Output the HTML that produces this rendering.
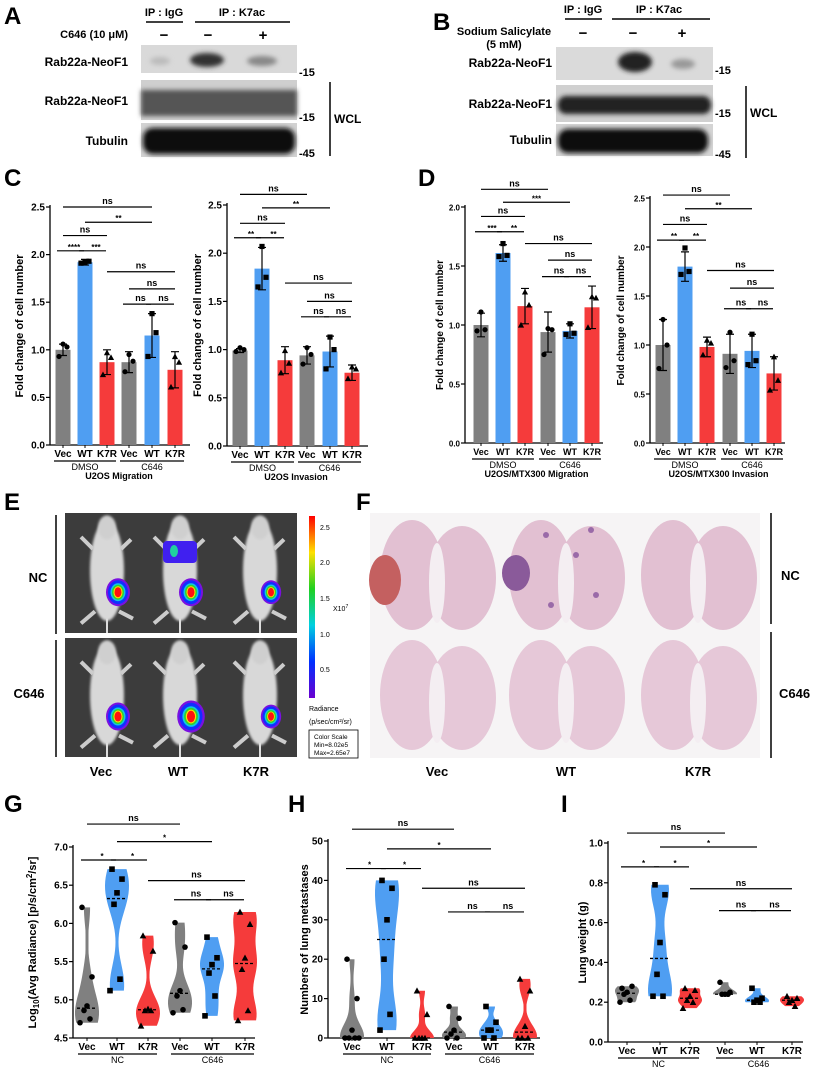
<!DOCTYPE html>
<html><head><meta charset="utf-8"><style>
html,body{margin:0;padding:0;background:#fff;}
svg{display:block;font-family:"Liberation Sans",Arial,sans-serif;}
.b{font-weight:bold;}
</style></head><body>
<svg id="fig" width="817" height="1078" viewBox="0 0 817 1078" xmlns="http://www.w3.org/2000/svg">
<defs>
<filter id="bl2" x="-50%" y="-50%" width="200%" height="200%"><feGaussianBlur stdDeviation="2.5"/></filter>
<filter id="bl4" x="-50%" y="-50%" width="200%" height="200%"><feGaussianBlur stdDeviation="4"/></filter>
<filter id="bl1" x="-50%" y="-50%" width="200%" height="200%"><feGaussianBlur stdDeviation="1.2"/></filter>
<linearGradient id="cbar" x1="0" y1="1" x2="0" y2="0">
<stop offset="0" stop-color="#6a00d0"/><stop offset="0.2" stop-color="#0030ff"/><stop offset="0.4" stop-color="#00d0e0"/><stop offset="0.6" stop-color="#20d020"/><stop offset="0.8" stop-color="#ffe000"/><stop offset="1" stop-color="#ff0000"/>
</linearGradient>
</defs>

<!-- Panel A -->
<g>
<text x="4" y="24" font-size="24" class="b">A</text>
<text x="164" y="16" font-size="11" class="b" text-anchor="middle">IP : IgG</text>
<line x1="146" y1="22" x2="183" y2="22" stroke="#000" stroke-width="1.5"/>
<text x="242" y="16" font-size="11" class="b" text-anchor="middle">IP : K7ac</text>
<line x1="195" y1="22" x2="290" y2="22" stroke="#000" stroke-width="1.5"/>
<text x="128" y="38" font-size="11" class="b" text-anchor="end">C646 (10 μM)</text>
<text x="164" y="40" font-size="15" class="b" text-anchor="middle">−</text>
<text x="208" y="40" font-size="15" class="b" text-anchor="middle">−</text>
<text x="263" y="40" font-size="15" class="b" text-anchor="middle">+</text>
<rect x="141" y="45" width="156" height="28" fill="#d9d9d9"/>
<ellipse cx="160" cy="61" rx="10" ry="4" fill="#bbb" filter="url(#bl2)"/>
<ellipse cx="207" cy="60" rx="17" ry="7" fill="#333" filter="url(#bl2)"/>
<ellipse cx="262" cy="61" rx="15" ry="5" fill="#888" filter="url(#bl2)"/>
<rect x="141" y="80" width="156" height="40" fill="#cfcfcf"/>
<rect x="141" y="90" width="156" height="26" fill="#555" filter="url(#bl2)"/>
<rect x="141" y="123" width="156" height="34" fill="#d2d2d2"/>
<rect x="143" y="128" width="152" height="26" rx="10" fill="#111" filter="url(#bl2)"/>
<text x="128" y="66" font-size="12" class="b" text-anchor="end">Rab22a-NeoF1</text>
<text x="128" y="105" font-size="12" class="b" text-anchor="end">Rab22a-NeoF1</text>
<text x="128" y="145" font-size="12" class="b" text-anchor="end">Tubulin</text>
<text x="299" y="76" font-size="11" class="b">-15</text>
<text x="299" y="121" font-size="11" class="b">-15</text>
<text x="299" y="157" font-size="11" class="b">-45</text>
<line x1="330" y1="82" x2="330" y2="156" stroke="#000" stroke-width="1.5"/>
<text x="334" y="123" font-size="12" class="b">WCL</text>
</g>

<!-- Panel B -->
<g>
<text x="433" y="30" font-size="24" class="b">B</text>
<text x="583" y="13" font-size="11" class="b" text-anchor="middle">IP : IgG</text>
<line x1="565" y1="19" x2="602" y2="19" stroke="#000" stroke-width="1.5"/>
<text x="659" y="13" font-size="11" class="b" text-anchor="middle">IP : K7ac</text>
<line x1="612" y1="19" x2="710" y2="19" stroke="#000" stroke-width="1.5"/>
<text x="504" y="35" font-size="11" class="b" text-anchor="middle">Sodium Salicylate</text>
<text x="504" y="48" font-size="11" class="b" text-anchor="middle">(5 mM)</text>
<text x="583" y="38" font-size="15" class="b" text-anchor="middle">−</text>
<text x="633" y="38" font-size="15" class="b" text-anchor="middle">−</text>
<text x="682" y="38" font-size="15" class="b" text-anchor="middle">+</text>
<rect x="556" y="47" width="157" height="33" fill="#dadada"/>
<ellipse cx="635" cy="62" rx="17" ry="10" fill="#222" filter="url(#bl2)"/>
<ellipse cx="683" cy="64" rx="12" ry="5" fill="#999" filter="url(#bl2)"/>
<rect x="556" y="85" width="157" height="37" fill="#d0d0d0"/>
<rect x="558" y="96" width="153" height="18" rx="8" fill="#222" filter="url(#bl2)"/>
<rect x="556" y="124" width="157" height="32" fill="#d4d4d4"/>
<rect x="558" y="129" width="150" height="24" rx="10" fill="#111" filter="url(#bl2)"/>
<text x="552" y="67" font-size="12" class="b" text-anchor="end">Rab22a-NeoF1</text>
<text x="552" y="108" font-size="12" class="b" text-anchor="end">Rab22a-NeoF1</text>
<text x="552" y="144" font-size="12" class="b" text-anchor="end">Tubulin</text>
<text x="715" y="74" font-size="11" class="b">-15</text>
<text x="715" y="117" font-size="11" class="b">-15</text>
<text x="715" y="158" font-size="11" class="b">-45</text>
<line x1="746" y1="86" x2="746" y2="158" stroke="#000" stroke-width="1.5"/>
<text x="750" y="117" font-size="12" class="b">WCL</text>
</g>

<text x="4" y="186" font-size="24" class="b">C</text>
<text x="418" y="186" font-size="24" class="b">D</text>

<!-- Panel E -->
<g>
<text x="4" y="510" font-size="24" class="b">E</text>
<line x1="56" y1="515" x2="56" y2="634" stroke="#000" stroke-width="1.5"/>
<line x1="56" y1="640" x2="56" y2="757" stroke="#000" stroke-width="1.5"/>
<text x="38" y="582" font-size="13" class="b" text-anchor="middle">NC</text>
<text x="29" y="698" font-size="13" class="b" text-anchor="middle">C646</text>
<g id="mice"></g>
<rect x="309" y="516" width="6" height="182" fill="url(#cbar)"/>
<text x="320" y="530" font-size="7">2.5</text>
<text x="320" y="565" font-size="7">2.0</text>
<text x="320" y="601" font-size="7">1.5</text>
<text x="320" y="637" font-size="7">1.0</text>
<text x="320" y="672" font-size="7">0.5</text>
<text x="333" y="611" font-size="7">X10<tspan dy="-3" font-size="5">7</tspan></text>
<text x="309" y="711" font-size="7">Radiance</text>
<text x="309" y="724" font-size="7">(p/sec/cm²/sr)</text>
<rect x="309" y="730" width="49" height="28" fill="none" stroke="#000" stroke-width="0.8"/>
<text x="314" y="739" font-size="6.5">Color Scale</text>
<text x="314" y="747" font-size="6.5">Min=8.02e5</text>
<text x="314" y="755" font-size="6.5">Max=2.65e7</text>
<text x="101" y="776" font-size="13" class="b" text-anchor="middle">Vec</text>
<text x="178" y="776" font-size="13" class="b" text-anchor="middle">WT</text>
<text x="256" y="776" font-size="13" class="b" text-anchor="middle">K7R</text>
</g>

<!-- Panel F -->
<g>
<text x="356" y="510" font-size="24" class="b">F</text>
<rect x="370" y="513" width="390" height="245" fill="#f6f4f5"/>
<g id="lungs"></g>
<line x1="771" y1="513" x2="771" y2="624" stroke="#000" stroke-width="1.5"/>
<line x1="771" y1="632" x2="771" y2="758" stroke="#000" stroke-width="1.5"/>
<text x="781" y="580" font-size="13" class="b">NC</text>
<text x="779" y="698" font-size="13" class="b">C646</text>
<text x="437" y="776" font-size="13" class="b" text-anchor="middle">Vec</text>
<text x="566" y="776" font-size="13" class="b" text-anchor="middle">WT</text>
<text x="698" y="776" font-size="13" class="b" text-anchor="middle">K7R</text>
</g>

<text x="4" y="812" font-size="24" class="b">G</text>
<text x="288" y="812" font-size="24" class="b">H</text>
<text x="561" y="812" font-size="24" class="b">I</text>

<g id="charts"></g>
</svg>

<script>
// ---------- data ----------
const cats = ['Vec','WT','K7R','Vec','WT','K7R'];
const groupsDC = ['DMSO','C646'];
const groupsNC = ['NC','C646'];

const cLeftMeans = [1.0,1.92,0.87,0.87,1.15,0.79];
const cLeftSD = [0.06,0.03,0.13,0.11,0.23,0.19];
const cLeftPts = [[0.93,1.03,1.06],[1.91,1.93,1.92],[0.74,0.92,0.97],[0.77,0.88,0.95],[0.93,1.18,1.38],[0.61,0.87,0.93]];
const cLeftSig = [[0,4,2.5,'ns'],[1,4,2.34,'**'],[0,2,2.2,'ns'],[0,1,2.04,'****'],[1,2,2.04,'***'],[2,5,1.82,'ns'],[3,5,1.64,'ns'],[3,4,1.48,'ns'],[4,5,1.48,'ns']];
const cLeftTicks = [0,0.5,1.0,1.5,2.0,2.5];

const cRightMeans = [0.99,1.84,0.89,0.94,0.98,0.76];
const cRightSD = [0.02,0.22,0.14,0.09,0.16,0.08];
const cRightPts = [[0.98,1.0,1.02],[1.65,1.75,2.07],[0.76,0.86,0.99],[0.85,0.95,1.02],[0.8,1.0,1.13],[0.7,0.8,0.82]];
const cRightSig = [[0,3,2.61,'ns'],[1,4,2.47,'**'],[0,2,2.31,'ns'],[0,1,2.16,'**'],[1,2,2.16,'**'],[2,5,1.69,'ns'],[3,5,1.5,'ns'],[3,4,1.34,'ns'],[4,5,1.34,'ns']];
const cRightTicks = [0,0.5,1.0,1.5,2.0,2.5];

const dLeftMeans = [1.0,1.61,1.16,0.94,0.95,1.15];
const dLeftSD = [0.1,0.07,0.15,0.17,0.06,0.18];
const dLeftPts = [[0.95,0.96,1.11],[1.58,1.59,1.69],[1.0,1.17,1.28],[0.75,0.96,0.97],[0.92,0.93,1.01],[0.98,1.23,1.24]];
const dLeftSig = [[0,3,2.15,'ns'],[1,4,2.04,'***'],[0,2,1.92,'ns'],[0,1,1.79,'***'],[1,2,1.79,'**'],[2,5,1.69,'ns'],[3,5,1.55,'ns'],[3,4,1.41,'ns'],[4,5,1.41,'ns']];
const dLeftTicks = [0,0.5,1.0,1.5,2.0];

const dRightMeans = [1.0,1.8,0.98,0.91,0.94,0.71];
const dRightSD = [0.26,0.15,0.1,0.2,0.17,0.17];
const dRightPts = [[0.76,1.0,1.26],[1.72,1.75,1.99],[0.9,1.02,1.05],[0.77,0.84,1.13],[0.8,0.84,1.11],[0.54,0.64,0.88]];
const dRightSig = [[0,3,2.53,'ns'],[1,4,2.39,'**'],[0,2,2.23,'ns'],[0,1,2.07,'**'],[1,2,2.07,'**'],[2,5,1.76,'ns'],[3,5,1.58,'ns'],[3,4,1.37,'ns'],[4,5,1.37,'ns']];
const dRightTicks = [0,0.5,1.0,1.5,2.0,2.5];

const gPts = [[6.21,5.3,4.92,4.86,4.75,4.7],[6.71,6.58,6.4,6.25,5.27,5.12],[5.84,5.64,4.88,4.86,4.86,4.66],[6.01,5.69,5.12,5.05,4.87,4.83],[5.82,5.55,5.46,5.35,5.05,4.79],[6.15,5.99,5.55,5.4,4.86,4.73]];
const gSig = [[0,3,7.3,'ns'],[1,4,7.07,'*'],[0,1,6.83,'*'],[1,2,6.83,'*'],[2,5,6.56,'ns'],[3,4,6.31,'ns'],[4,5,6.31,'ns']];
const gTicks = [4.5,5.0,5.5,6.0,6.5,7.0];

const hPts = [[20,10,2,0,0,0,0],[40,38,30,20,6,2],[12,6,0,0,0,0],[8,5,2,1,0,0],[8,4,2,2,0,0],[15,12,3,0,0,0]];
const hSig = [[0,3,53,'ns'],[1,4,48,'*'],[0,1,43,'*'],[1,2,43,'*'],[2,5,38,'ns'],[3,4,32,'ns'],[4,5,32,'ns']];
const hTicks = [0,10,20,30,40,50];

const iPts = [[0.27,0.28,0.25,0.24,0.21,0.2],[0.79,0.74,0.5,0.34,0.23,0.23],[0.27,0.26,0.23,0.21,0.2,0.17],[0.3,0.25,0.24,0.24,0.24],[0.27,0.22,0.21,0.2,0.2],[0.23,0.22,0.21,0.2,0.18]];
const iSig = [[0,3,1.05,'ns'],[1,4,0.98,'*'],[0,1,0.88,'*'],[1,2,0.88,'*'],[2,5,0.77,'ns'],[3,4,0.66,'ns'],[4,5,0.66,'ns']];
const iTicks = [0,0.2,0.4,0.6,0.8,1.0];

// ---------- drawing ----------
const NS = 'http://www.w3.org/2000/svg';
const COLORS = ['#808080','#4f9ef2','#f53b3b','#808080','#4f9ef2','#f53b3b'];
const SHAPES = ['c','s','t','c','s','t'];
const root = document.getElementById('charts');
function mk(tag, attrs, parent){
  const e = document.createElementNS(NS, tag);
  for (const k in attrs) e.setAttribute(k, attrs[k]);
  parent.appendChild(e);
  return e;
}
function txt(parent, x, y, s, size, anchor, bold){
  const t = mk('text', {x:x, y:y, 'font-size':size, 'text-anchor':anchor||'middle', 'font-weight':bold===false?'normal':'bold'}, parent);
  t.textContent = s;
  return t;
}
function marker(parent, shape, x, y, r){
  let m;
  if (shape==='c') m = mk('circle',{cx:x,cy:y,r:r,fill:'#000'},parent);
  else if (shape==='s') m = mk('rect',{x:x-r,y:y-r,width:2*r,height:2*r,fill:'#000'},parent);
  else m = mk('polygon',{points:`${x},${y-r-0.5} ${x-r-0.5},${y+r} ${x+r+0.5},${y+r}`,fill:'#000'},parent);
  
  
}
const OFFS = [-5,5,0,-3,3,-7,7];

function axes(g, o){
  const Y = v => o.y0 - (v - o.vMin)/(o.vTop - o.vMin)*(o.y0 - o.yTop);
  const ax = mk('line',{x1:o.x0,y1:o.yTop-2,x2:o.x0,y2:o.y0,stroke:'#000','stroke-width':1.3},g);
  
  
  const xa = mk('line',{x1:o.x0,y1:o.y0,x2:o.x1,y2:o.y0,stroke:'#000','stroke-width':1.3},g);
  
  
  o.ticks.forEach(v=>{
    mk('line',{x1:o.x0-4,y1:Y(v),x2:o.x0,y2:Y(v),stroke:'#000','stroke-width':1.2},g);
    const t = txt(g, o.x0-5, Y(v)+3.5, o.fmt(v), o.tickSize||10, 'end');
    
    
  });
  cats.forEach((c,i)=>{
    mk('line',{x1:o.catX[i],y1:o.y0,x2:o.catX[i],y2:o.y0+3,stroke:'#000','stroke-width':1},g);
    const t = txt(g, o.catX[i], o.y0+12, c, o.catSize||10, 'middle');
    
    
  });
  [[0,2],[3,5]].forEach((p,k)=>{
    mk('line',{x1:o.catX[p[0]]-9,y1:o.y0+16,x2:o.catX[p[1]]+9,y2:o.y0+16,stroke:'#000','stroke-width':1.2},g);
    const t = txt(g, (o.catX[p[0]]+o.catX[p[1]])/2, o.y0+25, o.groups[k], 9, 'middle', o.groupBold);
    
    
  });
  if (o.title){
    const t = txt(g, (o.catX[0]+o.catX[5])/2, o.y0+34, o.title, 9, 'middle');
    
    
  }
  const yt = mk('text',{x:0,y:0,'font-size':o.ytSize||11,'font-weight':'bold','text-anchor':'middle',transform:`translate(${o.ytX},${(o.y0+o.yTop)/2}) rotate(-90)`},g);
  yt.innerHTML = o.ytitle;
  
  
  o.sig.forEach(s=>{
    const a = o.catX[s[0]], b = o.catX[s[1]], y = Y(s[2]);
    const adj = (s[1]-s[0]===1);
    const l = mk('line',{x1:a-(adj?6:0),y1:y,x2:b+(adj?-1:0),y2:y,stroke:'#000','stroke-width':1.2},g);
    
    
    const t = txt(g,(a+b)/2,y-(s[3]==='ns'?3:1),s[3],s[3]==='ns'?9:8,'middle');
    
    
  });
  return Y;
}

function barChart(o){
  const g = mk('g',{},root);
  
  
  const Y = axes(g,o);
  o.means.forEach((m,i)=>{
    const x = o.catX[i];
    const r = mk('rect',{x:x-7.5,y:Y(m),width:15,height:o.y0-Y(m),fill:COLORS[i]},g);
    
    
    const sd = o.sd[i];
    const e = mk('path',{d:`M${x},${Y(m-sd)}V${Y(m+sd)}M${x-4},${Y(m+sd)}H${x+4}M${x-4},${Y(m-sd)}H${x+4}`,stroke:'#000','stroke-width':1.2,fill:'none'},g);
    
    
    o.pts[i].forEach((v,j)=>marker(g,SHAPES[i],x+[-4,4,0][j],Y(v),2.6));
  });
}

function violinChart(o){
  const g = mk('g',{},root);
  
  
  const Y = axes(g,o);
  o.pts.forEach((arr,i)=>{
    const x = o.catX[i];
    const lo = Math.min(...arr), hi = Math.max(...arr);
    const bw = Math.max((hi-lo)*0.16, (o.vTop-o.vMin)*0.02);
    const N = 30, dens = [];
    for (let k=0;k<=N;k++){
      const v = lo + (hi-lo)*k/N;
      let d = 0; arr.forEach(p=>{ d += Math.exp(-0.5*((v-p)/bw)**2); });
      dens.push([v,d]);
    }
    const mx = Math.max(...dens.map(d=>d[1]));
    const hw = 12;
    let left = [], right = [];
    dens.forEach(([v,d])=>{ const w = Math.max(1.5, hw*d/mx); left.push(`${x-w},${Y(v)}`); right.unshift(`${x+w},${Y(v)}`); });
    const p = mk('polygon',{points:left.concat(right).join(' '),fill:COLORS[i]},g);
    
    
    const s = [...arr].sort((a,b)=>a-b);
    const med = s.length%2 ? s[(s.length-1)/2] : (s[s.length/2-1]+s[s.length/2])/2;
    const ml = mk('line',{x1:x-10,y1:Y(med),x2:x+10,y2:Y(med),stroke:'#000','stroke-width':1.3,'stroke-dasharray':'3,2'},g);
    
    
    arr.forEach((v,j)=>marker(g,SHAPES[i],x+OFFS[j%OFFS.length],Y(v),2.8));
  });
}

const f1 = v=>v.toFixed(1);
barChart({name:'chart-c-u2os-migration',x0:50,x1:190,y0:445,yTop:207,vMin:0,vTop:2.5,ticks:cLeftTicks,fmt:f1,catX:[63,85,107,129,152,175],
  means:cLeftMeans,sd:cLeftSD,pts:cLeftPts,sig:cLeftSig,groups:groupsDC,title:'U2OS Migration',ytX:23,ytitle:'Fold change of cell number',groupBold:false});
barChart({name:'chart-c-u2os-invasion',x0:227,x1:368,y0:446,yTop:205,vMin:0,vTop:2.5,ticks:cRightTicks,fmt:f1,catX:[240,262,285,307,330,352],
  means:cRightMeans,sd:cRightSD,pts:cRightPts,sig:cRightSig,groups:groupsDC,title:'U2OS Invasion',ytX:201,ytitle:'Fold change of cell number',groupBold:false});
barChart({name:'chart-d-mtx300-migration',x0:465,x1:603,y0:443,yTop:207,vMin:0,vTop:2.0,ticks:dLeftTicks,fmt:f1,catX:[481,503,525,548,570,592],
  means:dLeftMeans,sd:dLeftSD,pts:dLeftPts,sig:dLeftSig,groups:groupsDC,title:'U2OS/MTX300 Migration',ytX:443,ytitle:'Fold change of cell number',tickSize:8,catSize:9,groupBold:false,ytSize:10});
barChart({name:'chart-d-mtx300-invasion',x0:650,x1:785,y0:443,yTop:198,vMin:0,vTop:2.5,ticks:dRightTicks,fmt:f1,catX:[663,685,707,730,752,774],
  means:dRightMeans,sd:dRightSD,pts:dRightPts,sig:dRightSig,groups:groupsDC,title:'U2OS/MTX300 Invasion',ytX:624,ytitle:'Fold change of cell number',tickSize:8,catSize:9,groupBold:false,ytSize:10});

violinChart({name:'chart-g-radiance',x0:73,x1:255,y0:1038,yTop:847,vMin:4.5,vTop:7.0,ticks:gTicks,fmt:f1,catX:[87,117,148,180,212,245],
  pts:gPts,sig:gSig,groups:groupsNC,ytX:36,ytitle:'Log<tspan font-size="8" dy="3">10</tspan><tspan dy="-3">(Avg Radiance) [p/s/cm</tspan><tspan font-size="8" dy="-4">2</tspan><tspan dy="4">/sr]</tspan>',groupBold:false});
violinChart({name:'chart-h-lung-metastases',x0:328,x1:540,y0:1038,yTop:841,vMin:0,vTop:50,ticks:hTicks,fmt:v=>String(v),catX:[352,387,422,454,491,525],
  pts:hPts,sig:hSig,groups:groupsNC,ytX:308,ytitle:'Numbers of lung metastases',groupBold:false});
violinChart({name:'chart-i-lung-weight',x0:608,x1:803,y0:1042,yTop:843,vMin:0,vTop:1.0,ticks:iTicks,fmt:f1,catX:[627,660,690,725,757,792],
  pts:iPts,sig:iSig,groups:groupsNC,ytX:586,ytitle:'Lung weight (g)',groupBold:false});

// ---------- mice (panel E) ----------
const mice = document.getElementById('mice');
[[513,633],[638,757]].forEach((row,ri)=>{
  const bg = mk('rect',{x:65,y:row[0],width:232,height:row[1]-row[0],fill:'#3c3c3c'},mice);
  
  
  [107,180,260].forEach((cx,ci)=>{
    const top=row[0], h=row[1]-row[0];
    mk('ellipse',{cx:cx,cy:top+h*0.48,rx:17,ry:h*0.42,fill:'#d8d8d8',filter:'url(#bl1)'},mice);
    mk('ellipse',{cx:cx,cy:top+h*0.12,rx:9,ry:12,fill:'#cfcfcf',filter:'url(#bl1)'},mice);
    mk('line',{x1:cx-14,y1:top+h*0.3,x2:cx-26,y2:top+h*0.2,stroke:'#ccc','stroke-width':4},mice);
    mk('line',{x1:cx+14,y1:top+h*0.3,x2:cx+24,y2:top+h*0.22,stroke:'#ccc','stroke-width':4},mice);
    mk('line',{x1:cx-12,y1:top+h*0.82,x2:cx-26,y2:top+h*0.92,stroke:'#ccc','stroke-width':4},mice);
    mk('line',{x1:cx+12,y1:top+h*0.82,x2:cx+26,y2:top+h*0.88,stroke:'#ccc','stroke-width':4},mice);
    mk('line',{x1:cx,y1:top+h*0.88,x2:cx,y2:row[1],stroke:'#ddd','stroke-width':2},mice);
    const bx = cx+11, by = top+h*0.66;
    const sz = (ri===1&&ci===1)?1.15:(ci===2?0.85:1);
    [['#7a10e0',12,14],['#1030ff',10,12],['#10c8e0',7.5,9],['#30d030',6,7.5],['#ffe000',4.5,6],['#ff1010',3.5,5]].forEach(c=>{
      mk('ellipse',{cx:bx,cy:by,rx:c[1]*sz,ry:c[2]*sz,fill:c[0]},mice);
    });
    if (ri===0 && ci===1){
      mk('rect',{x:cx-17,y:top+28,width:34,height:22,rx:4,fill:'#4020f0'},mice);
      mk('ellipse',{cx:cx-6,cy:top+38,rx:4,ry:6,fill:'#20d0a0'},mice);
    }
  });
});

// ---------- lungs (panel F) ----------
const lungs = document.getElementById('lungs');
[[575,'#e2c0d2'],[695,'#e6c8d8']].forEach((row,ri)=>{
  [437,566,698].forEach((cx,ci)=>{
    const lg = mk('g',{},lungs);
    
    
    mk('ellipse',{cx:cx-25,cy:row[0],rx:32,ry:55,fill:row[1]},lg);
    mk('ellipse',{cx:cx+25,cy:row[0]+3,rx:34,ry:52,fill:row[1]},lg);
    mk('ellipse',{cx:cx,cy:row[0]+8,rx:8,ry:40,fill:'#f4eef2'},lg);
    if (ri===0 && ci===0) mk('ellipse',{cx:cx-52,cy:row[0]+5,rx:16,ry:25,fill:'#c46060'},lg);
    if (ri===0 && ci===1){
      mk('ellipse',{cx:cx-50,cy:row[0]-2,rx:14,ry:18,fill:'#8a5a9a'},lg);
      [[-20,-40],[10,-20],[30,20],[-15,30],[25,-45]].forEach(d=>mk('circle',{cx:cx+d[0],cy:row[0]+d[1],r:3,fill:'#9a6aa8'},lg));
    }
  });
});
</script>
</body></html>
